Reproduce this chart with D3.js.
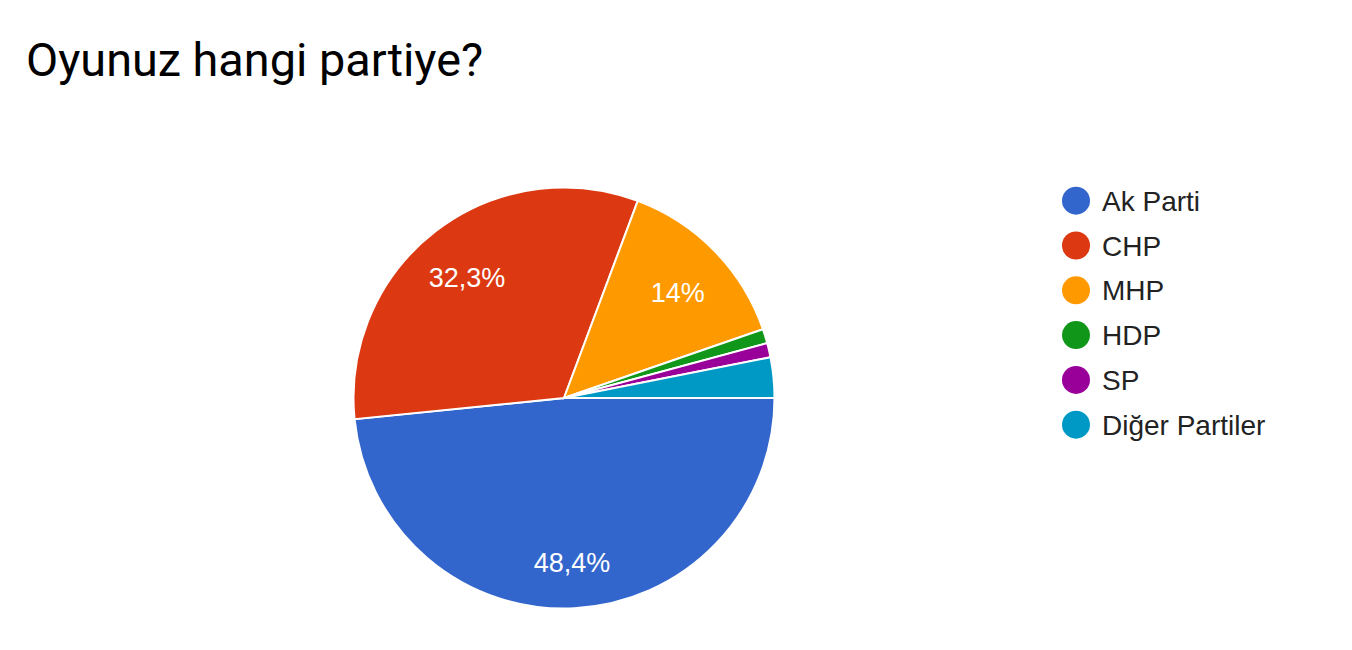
<!DOCTYPE html>
<html>
<head>
<meta charset="utf-8">
<script src="https://cdn.jsdelivr.net/npm/d3@7"></script>
<style>
  html, body { margin: 0; padding: 0; background: #fff; }
  svg { display: block; }
</style>
</head>
<body>
<svg id="chart" width="1352" height="650"></svg>
<script>
const title = "Oyunuz hangi partiye?";
const categories = ["Ak Parti", "CHP", "MHP", "HDP", "SP", "Diğer Partiler"];
const values = [48.4, 32.3, 14.0, 1.1, 1.1, 3.1];
const labels = ["48,4%", "32,3%", "14%", "", "", ""];
const colors = ["#3366cc", "#dc3912", "#ff9900", "#109618", "#990099", "#0099c6"];

const svg = d3.select("#chart");
const cx = 564, cy = 398, R = 210.5;

svg.append("text")
  .attr("x", 26).attr("y", 76)
  .attr("font-family", "Roboto, sans-serif")
  .attr("font-size", 46.8)
  .attr("fill", "#000")
  .text(title);

const data = categories.map((c, i) => ({ name: c, value: values[i], label: labels[i], color: colors[i] }));

const pie = d3.pie()
  .value(d => d.value)
  .sort(null)
  .startAngle(Math.PI / 2)
  .endAngle(Math.PI / 2 + 2 * Math.PI);

const arcs = pie(data);
const arc = d3.arc().innerRadius(0).outerRadius(R);
const labelArc = d3.arc().innerRadius(R * 0.755).outerRadius(R * 0.755);

const g = svg.append("g").attr("transform", `translate(${cx},${cy})`);

g.selectAll("path.slice")
  .data(arcs)
  .join("path")
  .attr("class", "slice")
  .attr("d", arc)
  .attr("fill", d => d.data.color)
  .attr("stroke", "#fff")
  .attr("stroke-width", 2);

g.selectAll("text.lbl")
  .data(arcs.filter(d => d.data.label))
  .join("text")
  .attr("class", "lbl")
  .attr("transform", d => `translate(${labelArc.centroid(d)})`)
  .attr("text-anchor", "middle")
  .attr("dy", "0.55em")
  .attr("font-family", "Arial, 'Liberation Sans', sans-serif")
  .attr("font-size", 27)
  .attr("fill", "#fff")
  .text(d => d.data.label);

const legendY = d3.scalePoint()
  .domain(categories)
  .range([200.7, 424.7]);

const items = svg.append("g").selectAll("g.item")
  .data(data)
  .join("g")
  .attr("class", "item")
  .attr("transform", d => `translate(1076,${legendY(d.name)})`);

items.append("circle")
  .attr("r", 14)
  .attr("fill", d => d.color);

items.append("text")
  .attr("x", 26)
  .attr("y", 10)
  .attr("font-family", "Arial, 'Liberation Sans', sans-serif")
  .attr("font-size", 28)
  .attr("fill", "#222")
  .text(d => d.name);
</script>
</body>
</html>
